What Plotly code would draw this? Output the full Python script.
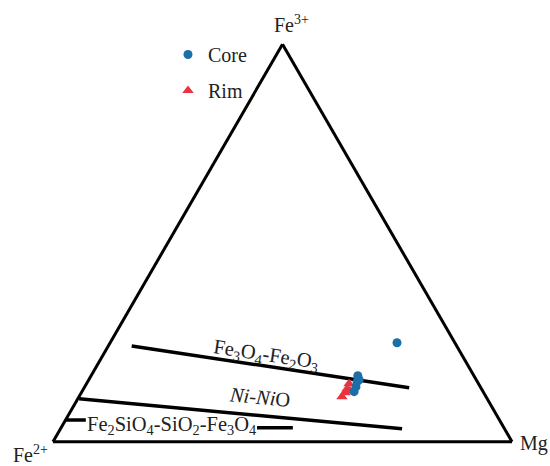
import plotly.graph_objects as go

# ---- data (ternary fractions: a = Fe3+, b = Fe2+, c = Mg) ----
core_fe3 = [0.249, 0.166, 0.156, 0.151, 0.138, 0.126]
core_fe2 = [0.126, 0.253, 0.255, 0.262, 0.271, 0.281]
core_mg  = [0.625, 0.581, 0.589, 0.587, 0.591, 0.593]

rim_fe3 = [0.146, 0.133, 0.128, 0.123, 0.113]
rim_fe2 = [0.282, 0.293, 0.289, 0.302, 0.314]
rim_mg  = [0.572, 0.574, 0.583, 0.575, 0.573]

# buffer lines
hm_fe3 = [0.241, 0.136]
hm_fe2 = [0.708, 0.156]
hm_mg  = [0.051, 0.708]

nno_fe3 = [0.108, 0.033]
nno_fe2 = [0.889, 0.223]
nno_mg  = [0.003, 0.744]

fmq1_fe3 = [0.055, 0.055]
fmq1_fe2 = [0.945, 0.901]
fmq1_mg  = [0.000, 0.044]

fmq2_fe3 = [0.035, 0.035]
fmq2_fe2 = [0.538, 0.460]
fmq2_mg  = [0.427, 0.505]

SERIF = "Liberation Serif"
BLUE = "#1b6ea8"
RED = "#e8343f"
TXT = "#222"

fig = go.Figure()

line_style = dict(color="black", width=3.5)
for fa, fb, fc in [(hm_fe3, hm_fe2, hm_mg), (nno_fe3, nno_fe2, nno_mg),
                   (fmq1_fe3, fmq1_fe2, fmq1_mg), (fmq2_fe3, fmq2_fe2, fmq2_mg)]:
    fig.add_trace(go.Scatterternary(a=fa, b=fb, c=fc, mode="lines",
                                    line=line_style, showlegend=False,
                                    hoverinfo="skip"))

fig.add_trace(go.Scatterternary(a=rim_fe3, b=rim_fe2, c=rim_mg, mode="markers",
                                name="Rim", legendgroup="rim", legendrank=2,
                                marker=dict(symbol="triangle-up", size=10, color=RED)))
fig.add_trace(go.Scatterternary(a=core_fe3, b=core_fe2, c=core_mg, mode="markers",
                                name="Core", legendgroup="core", legendrank=1,
                                marker=dict(symbol="circle", size=9, color=BLUE)))

L, R, T, B = 53, 38, 44, 24
W, H = 550 - L - R, 466 - T - B

def px(x):
    return (x - L) / W

def py(y):
    return (466 - B - y) / H

axis = dict(showgrid=False, showticklabels=False, ticks="", showline=True,
            linecolor="black", linewidth=3, title=dict(text=""))

fig.update_layout(
    width=550, height=466,
    margin=dict(l=L, r=R, t=T, b=B),
    paper_bgcolor="white",
    ternary=dict(
        domain=dict(x=[0, 1], y=[0, 1]),
        bgcolor="white",
        sum=1,
        aaxis=axis, baxis=axis, caxis=axis,
    ),
    showlegend=True,
    legend=dict(x=px(168), y=py(35), xanchor="left", yanchor="top",
                font=dict(family=SERIF, size=20, color=TXT),
                traceorder="grouped", tracegroupgap=7,
                bgcolor="rgba(0,0,0,0)"),
    font=dict(family=SERIF, color=TXT),
)

ann = []
def add(text, x, y, size=20, angle=0, xanchor="center", yanchor="middle"):
    ann.append(dict(text=text, x=px(x), y=py(y), xref="paper", yref="paper",
                    showarrow=False, textangle=angle, xanchor=xanchor,
                    yanchor=yanchor, font=dict(family=SERIF, size=size, color=TXT)))

add("Fe<sup>3+</sup>", 291, 24)
add("Fe<sup>2+</sup>", 30, 454)
add("Mg", 518, 444, xanchor="left")
add("Fe<sub>3</sub>O<sub>4</sub>-Fe<sub>2</sub>O<sub>3</sub>", 266, 355, size=20.5, angle=8.5)
add("<i>Ni-Ni</i>O", 259, 397, size=20.5, angle=5.5)
add("Fe<sub>2</sub>SiO<sub>4</sub>-SiO<sub>2</sub>-Fe<sub>3</sub>O<sub>4</sub>", 171, 425, size=20.5)
fig.update_layout(annotations=ann)

fig.write_html("out.html",
               config={"displayModeBar": False},
               post_script="document.body.style.margin='0';document.body.style.padding='0';")
